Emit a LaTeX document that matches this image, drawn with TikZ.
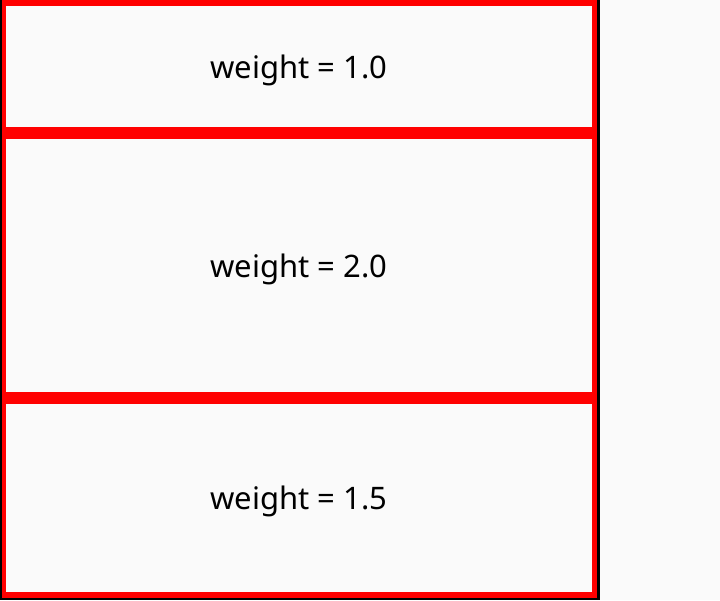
\documentclass[tikz,border=0pt]{standalone}
\usepackage{fontspec}
\setmainfont{Noto Sans}
\usetikzlibrary{positioning}
\definecolor{pagebg}{HTML}{FAFAFA}
\tikzstyle{panel} = [rectangle,
minimum width=592pt,
text centered,
text depth=0pt,
draw=red,
line width=6pt,
fill=pagebg,
font=\fontsize{31}{37}\selectfont]
\tikzstyle{frame} = [black, line width=2.5pt]

\begin{document}
\begin{tikzpicture}[x=1pt, y=1pt]
			\fill[pagebg] (0,0) rectangle (720,600);
			\useasboundingbox (0,0) rectangle (720,600);
			\node (first) [panel, minimum height=127pt, anchor=north west] at (0,600) {weight = 1.0};
			\node (second) [panel, minimum height=259pt, below=0pt of first] {weight = 2.0};
			\node (third) [panel, minimum height=194pt, below=0pt of second] {weight = 1.5};

			\coordinate (topleft) at (1.2,600);
			\coordinate (bottomright) at (598.5,1);
			\draw[frame] (topleft) |- (bottomright) -- (bottomright |- topleft);
		\end{tikzpicture}
\end{document}
